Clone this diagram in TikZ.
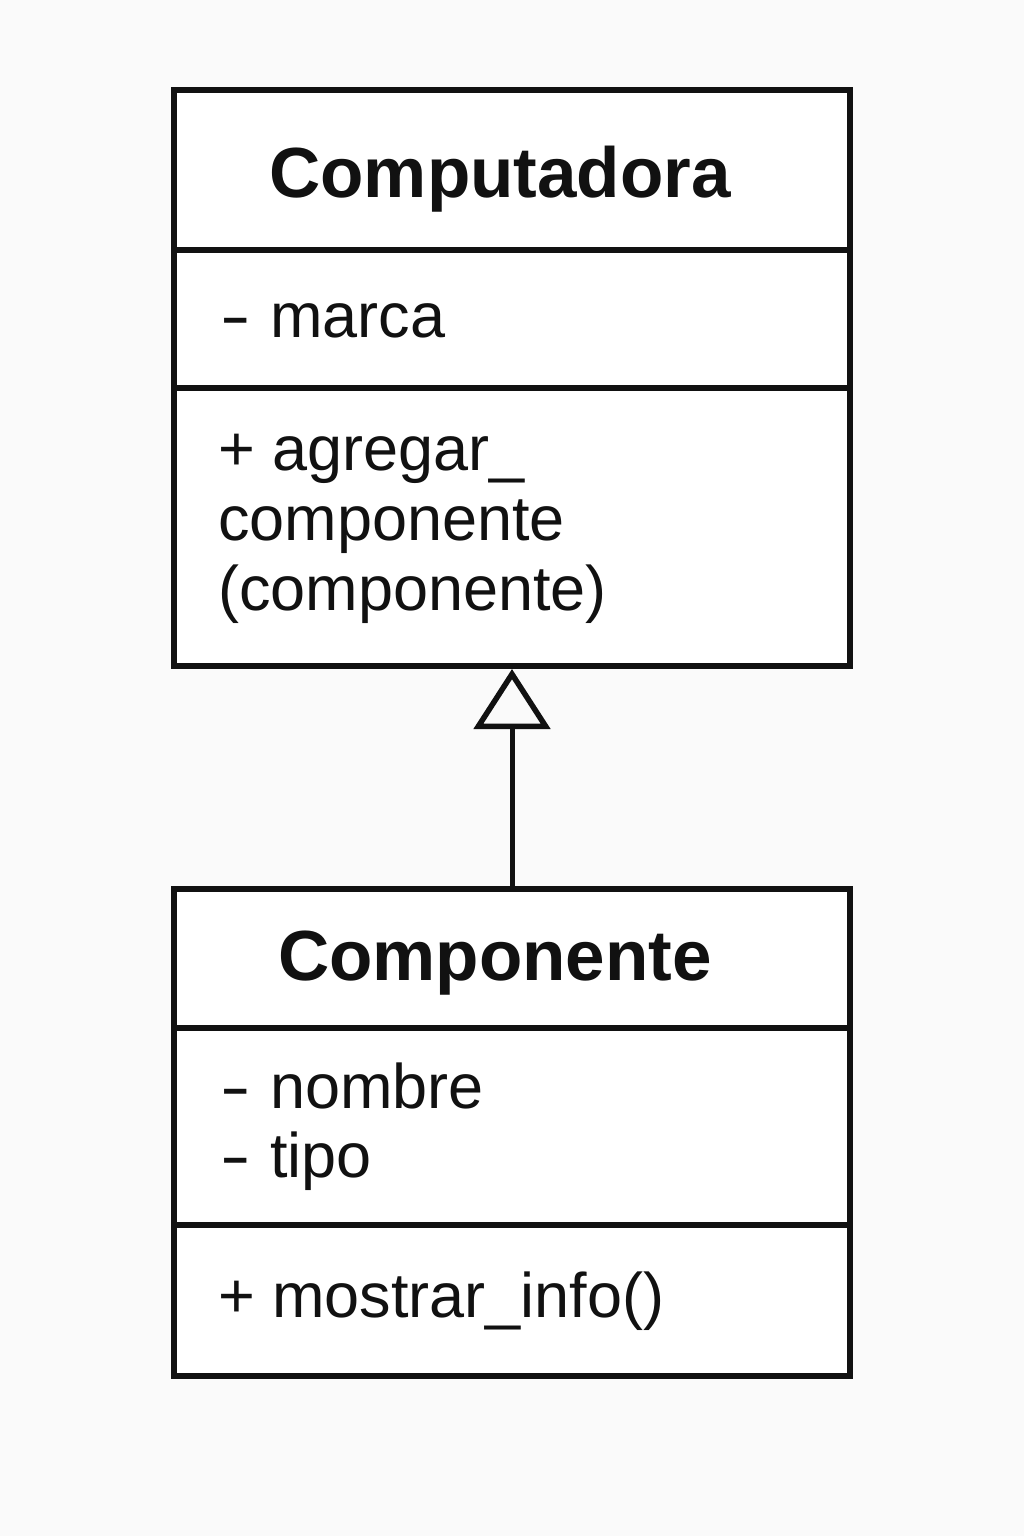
\documentclass[tikz,border=0pt]{standalone}
\usepackage{fontspec}
\usepackage{graphicx}
\setmainfont{Liberation Sans}
\usetikzlibrary{arrows.meta}
\definecolor{bg}{HTML}{FAFAFA}
\definecolor{ink}{HTML}{111111}
\newcommand{\vis}[1]{\scalebox{1.45}[1]{#1}\hspace{2pt}}
\tikzset{
  umlbox/.style={draw=ink, line width=6pt, fill=white, inner sep=0pt},
  divider/.style={draw=ink, line width=6pt},
  titletext/.style={inner sep=0pt, anchor=base, text=ink, font=\bfseries\fontsize{71}{80}\selectfont},
  bodytext/.style={inner sep=0pt, anchor=base west, text=ink, font=\fontsize{63}{70}\selectfont},
  inherit/.style={draw=ink, line width=5pt, -{Triangle[open, length=60pt, width=76pt, line width=5.5pt]}}
}
\begin{document}
\begin{tikzpicture}[x=1pt,y=-1pt]
\fill[bg] (0,0) rectangle (1024,1536);
\useasboundingbox (0,0) rectangle (1024,1536);

% Computadora
\node[umlbox, minimum width=676pt, minimum height=576pt] (comp) at (512,378) {};
\draw[divider] (comp.west |- 0,250) -- (comp.east |- 0,250);
\draw[divider] (comp.west |- 0,388) -- (comp.east |- 0,388);
\node[titletext] (compTitle) at (500,197) {Computadora};
\node[bodytext] (compAttr) at (220,337) {\vis{-} marca};
\node[bodytext] (compM1) at (218,470) {+ agregar\_};
\node[bodytext] (compM2) at (218,540) {componente};
\node[bodytext] (compM3) at (218,610) {(componente)};

% Componente
\node[umlbox, minimum width=676pt, minimum height=487pt] (part) at (512,1132.5) {};
\draw[divider] (part.west |- 0,1028) -- (part.east |- 0,1028);
\draw[divider] (part.west |- 0,1225) -- (part.east |- 0,1225);
\node[titletext] (partTitle) at (495,980) {Componente};
\node[bodytext] (partA1) at (220,1108) {\vis{-} nombre};
\node[bodytext] (partA2) at (220,1177) {\vis{-} tipo};
\node[bodytext] (partM1) at (218,1317) {+ mostrar\_info()};

% generalization
\draw[inherit] (part.north) -- (comp.south);
\end{tikzpicture}
\end{document}
